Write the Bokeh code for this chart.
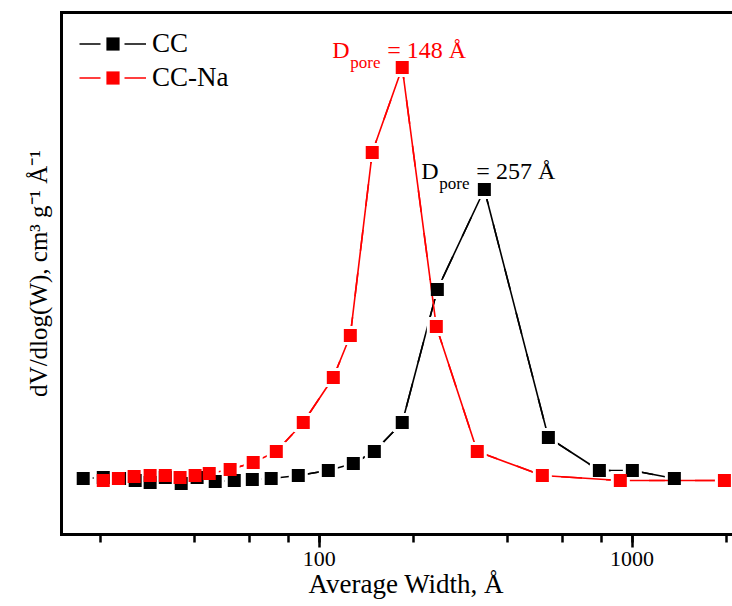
import numpy as np
from bokeh.plotting import figure
from bokeh.models import (Range1d, LogAxis, FixedTicker, LogTicker, Legend, LegendItem,
                          Label, Title, BasicTickFormatter, ColumnDataSource)
from bokeh.embed import file_html
from bokeh.resources import INLINE

# ---- data (y in arbitrary units) ----
cc_width = [17.6, 20.4, 23.0, 25.8, 28.8, 32.2, 36.2, 40.7, 46.5, 53.5, 61.1, 70.2,
            85.7, 106.9, 128.5, 150.0, 184.2, 238.5, 337.1, 540.0, 786.0, 1002.0, 1365.0]
cc_dv = [0.56, 0.57, 0.56, 0.54, 0.52, 0.57, 0.51, 0.57, 0.53, 0.54, 0.55, 0.56,
         0.59, 0.64, 0.71, 0.83, 1.12, 2.45, 3.45, 0.97, 0.64, 0.64, 0.56]

na_width = [20.4, 22.8, 25.6, 28.8, 32.2, 35.9, 40.1, 44.5, 51.9, 61.5, 72.9, 88.9,
            110.9, 125.7, 147.7, 184.2, 236.7, 320.0, 516.6, 917.0, 1973.0]
na_dv = [0.54, 0.56, 0.58, 0.59, 0.59, 0.57, 0.59, 0.61, 0.65, 0.72, 0.83, 1.12,
         1.57, 1.99, 3.82, 4.67, 2.08, 0.83, 0.59, 0.54, 0.54]

series_names = ["CC", "CC-Na"]
series_colors = ["black", "red"]
pore_labels = ["= 257 Å", "= 148 Å"]
x_title = "Average Width, Å"
y_title = "dV/dlog(W), cm³ g⁻¹ Å⁻¹"

FONT = "Liberation Serif"

p = figure(x_axis_type="log", x_range=Range1d(15, 2094), y_range=Range1d(0, 5.22),
           width=732, height=606, output_backend="svg", toolbar_location=None,
           min_border_left=61, min_border_right=0, min_border_top=12, min_border_bottom=72)
p.grid.visible = False
p.outline_line_color = None
p.background_fill_color = "white"

src_cc = ColumnDataSource(dict(x=cc_width, y=cc_dv))
src_na = ColumnDataSource(dict(x=na_width, y=na_dv))

# dashed copies (hidden under the solid lines) used for the legend glyph
d_cc = p.line("x", "y", source=src_cc, line_color="black", line_width=1.6, line_dash="21 24 22")
d_na = p.line("x", "y", source=src_na, line_color="red", line_width=1.6, line_dash="21 24 22")

# lines, halos (gaps around markers), markers
l_cc = p.line("x", "y", source=src_cc, line_color="black", line_width=1.6)
h_cc = p.scatter("x", "y", source=src_cc, marker="square", size=19, fill_color="white", line_color=None)
l_na = p.line("x", "y", source=src_na, line_color="red", line_width=1.6)
h_na = p.scatter("x", "y", source=src_na, marker="square", size=19, fill_color="white", line_color=None)
m_cc = p.scatter("x", "y", source=src_cc, marker="square", size=13, fill_color="black", line_color=None)
m_na = p.scatter("x", "y", source=src_na, marker="square", size=13, fill_color="red", line_color=None)

items = [LegendItem(label=series_names[0], renderers=[d_cc, m_cc]),
         LegendItem(label=series_names[1], renderers=[d_na, m_na])]

legend = Legend(items=items, location=(18, 440), padding=10, spacing=1,
                glyph_width=67, glyph_height=33, label_height=33, label_standoff=6,
                label_text_font=FONT, label_text_font_size="27px", label_text_color="black",
                border_line_color=None, background_fill_alpha=0)
p.add_layout(legend)

# annotations anchored on each peak
for xs, ys, col, txt in [(cc_width, cc_dv, "black", pore_labels[0]),
                         (na_width, na_dv, "red", pore_labels[1])]:
    i = int(np.argmax(ys))
    if col == "black":
        dx, dy = -63, 19
    else:
        dx, dy = -70, 18
    p.add_layout(Label(x=xs[i], y=ys[i], x_offset=dx, y_offset=dy, text="D",
                       text_font=FONT, text_font_size="24px", text_color=col,
                       text_baseline="alphabetic"))
    p.add_layout(Label(x=xs[i], y=ys[i], x_offset=dx + 18, y_offset=dy - 13, text="pore",
                       text_font=FONT, text_font_size="17px", text_color=col,
                       text_baseline="alphabetic"))
    p.add_layout(Label(x=xs[i], y=ys[i], x_offset=dx + 55, y_offset=dy, text=txt,
                       text_font=FONT, text_font_size="24px", text_color=col,
                       text_baseline="alphabetic"))

# x axis
xa = p.xaxis[0]
xa.ticker = LogTicker()
xa.formatter = BasicTickFormatter(use_scientific=False)
xa.major_label_text_font = FONT
xa.major_label_text_font_size = "22px"
xa.major_label_text_color = "black"
xa.major_label_standoff = 4
xa.axis_line_width = 3
xa.axis_line_cap = "square"
xa.major_tick_out = 13
xa.major_tick_in = 0
xa.minor_tick_out = 8
xa.minor_tick_in = 0
xa.major_tick_line_width = 2.5
xa.minor_tick_line_width = 2.5

# x axis title (the original figure is cropped on the right, so it sits right of centre)
p.add_layout(Title(text=x_title, align="left", offset=247, standoff=0,
                   vertical_align="top", text_font=FONT, text_font_size="27px",
                   text_font_style="normal", text_color="black"), "below")

# y axis (no ticks)
ya = p.yaxis[0]
ya.ticker = FixedTicker(ticks=[])
ya.axis_label = y_title
ya.axis_label_text_font = FONT
ya.axis_label_text_font_size = "25px"
ya.axis_label_text_font_style = "normal"
ya.axis_label_text_color = "black"
ya.axis_label_standoff = 10
ya.axis_line_width = 3
ya.axis_line_cap = "square"

# top frame line
top = LogAxis(ticker=FixedTicker(ticks=[]), axis_line_width=3, axis_line_cap="square",
              major_label_text_font_size="0px")
p.add_layout(top, "above")

open("out.html", "w").write(file_html(p, INLINE))
